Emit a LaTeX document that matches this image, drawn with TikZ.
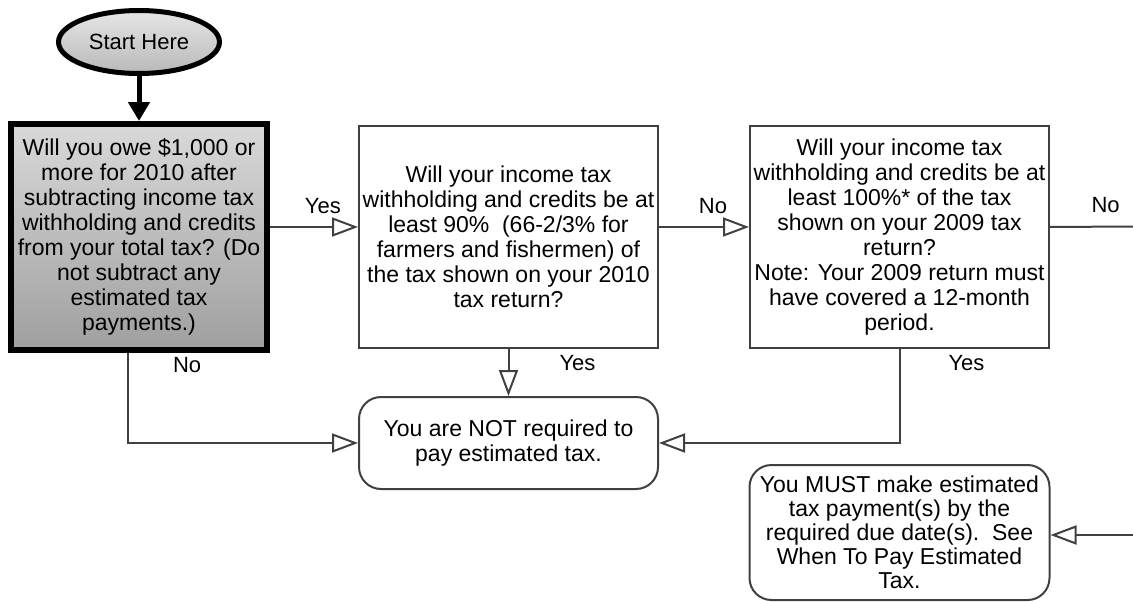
\documentclass[tikz,border=0pt]{standalone}
\usepackage{fontspec}
\setmainfont{Liberation Sans}
\usetikzlibrary{arrows.meta,positioning,shapes.geometric}

\begin{document}
\begin{tikzpicture}[
  x=1pt,y=-1pt,
  every node/.style={font=\fontsize{22pt}{25pt}\selectfont},
  box/.style={draw=black!75,line width=2pt,align=center,minimum width=299pt,minimum height=222pt,inner sep=2pt,font=\fontsize{23pt}{25pt}\selectfont},
  firstbox/.style={box,draw=black,line width=6pt,top color=gray!30,bottom color=gray!75,minimum width=256pt,minimum height=226pt},
  endbox/.style={box,rounded corners=22pt,minimum height=92pt},
  startnode/.style={ellipse,draw=black,line width=5pt,top color=gray!20,bottom color=gray!55,minimum width=161pt,minimum height=63pt},
  arr/.style={-{Triangle[open,length=26pt,width=19pt]},draw=black!75,line width=2pt},
  ln/.style={draw=black!75,line width=2pt},
  lbl/.style={inner sep=0pt}
]
\useasboundingbox (0,0) rectangle (1133,602);
\node[firstbox] (q1) at (139,237) {Will you owe \$1,000 or\\more for 2010 after\\subtracting income tax\\withholding and credits\\from your total tax? (Do\\not subtract any\\estimated tax\\payments.)};
\node[startnode,above=45pt of q1] (start) {Start Here};
\node[box,right=88pt of q1] (q2) {Will your income tax\\withholding and credits be at\\least 90\%~~(66-2/3\% for\\farmers and fishermen) of\\the tax shown on your 2010\\tax return?};
\node[box,right=90pt of q2] (q3) {Will your income tax\\withholding and credits be at\\least 100\%* of the tax\\shown on your 2009 tax\\return?\\Note: Your 2009 return must\\have covered a 12-month\\period.};
\node[endbox,below=47pt of q2] (notreq) {You are NOT required to\\pay estimated tax.};
\node[endbox,below=115pt of q3,minimum width=300pt,minimum height=135pt,font=\fontsize{23pt}{24pt}\selectfont] (must) {You MUST make estimated\\tax payment(s) by the\\required due date(s).~~See\\When To Pay Estimated\\Tax.};
\coordinate (outR) at (1133,226.5);
\coordinate (inR) at (1133,535);
\draw[-{Triangle[length=19pt,width=21pt]},line width=5pt] (start) -- (q1);
\draw[arr] ([yshift=10pt]q1.east) -- ([yshift=10pt]q1.east -| q2.west) node[lbl,pos=0.6,anchor=base,yshift=14pt] {Yes};
\draw[arr] ([yshift=10pt]q2.east) -- ([yshift=10pt]q2.east -| q3.west) node[lbl,pos=0.6,anchor=base,yshift=14pt] {No};
\draw[ln] ([yshift=10pt]q3.east) -- (outR) node[lbl,pos=0.67,anchor=base,yshift=14pt] {No};
\draw[arr] ([xshift=-11pt]q1.south) |- (notreq.west) node[lbl,pos=0,anchor=base west,xshift=44pt,yshift=-19pt] {No};
\draw[arr] (q2.south) -- (notreq.north) node[lbl,pos=0,anchor=base west,xshift=50pt,yshift=-21pt] {Yes};
\draw[arr] (q3.south) |- (notreq.east) node[lbl,pos=0,anchor=base west,xshift=48pt,yshift=-21pt] {Yes};
\draw[arr] (inR) -- (inR -| must.east);
\end{tikzpicture}
\end{document}
